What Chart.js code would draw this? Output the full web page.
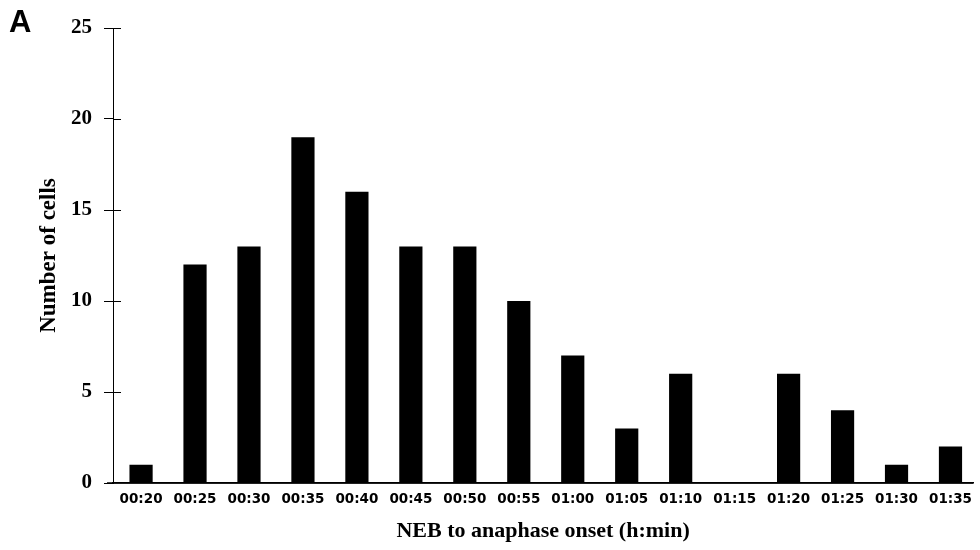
<!DOCTYPE html>
<html>
<head>
<meta charset="utf-8">
<script src="https://cdn.jsdelivr.net/npm/chart.js@4/dist/chart.umd.min.js"></script>
<style>
  html, body { margin: 0; padding: 0; background: #fff; overflow: hidden; }
  #wrap { position: relative; width: 980px; height: 550px; }
</style>
</head>
<body>
<div id="wrap"><canvas id="c" width="980" height="550"></canvas></div>
<script>
const categories = ["00:20","00:25","00:30","00:35","00:40","00:45","00:50","00:55","01:00","01:05","01:10","01:15","01:20","01:25","01:30","01:35"];
const cellCounts = [1, 12, 13, 19, 16, 13, 13, 10, 7, 3, 6, 0, 6, 4, 1, 2];
const yTicks = [0, 5, 10, 15, 20, 25];
const panelLabel = "A";
const xTitle = "NEB to anaphase onset (h:min)";
const yTitle = "Number of cells";

const points = cellCounts.map((v, i) => ({ x: i, y: v }));

const crossTicks = {
  id: 'crossTicks',
  afterDraw(chart) {
    const ctx = chart.ctx;
    const ys = chart.scales.y;
    const x0 = ys.right;
    ctx.save();
    ctx.strokeStyle = '#000';
    ctx.lineWidth = 1;
    yTicks.forEach(t => {
      if (t === 0) return;
      const py = Math.round(ys.getPixelForValue(t)) + 0.5;
      ctx.beginPath();
      ctx.moveTo(x0, py);
      ctx.lineTo(x0 + 8, py);
      ctx.stroke();
    });
    const xs = chart.scales.x;
    const by = ys.getPixelForValue(0);
    ctx.lineWidth = 1.5;
    ctx.beginPath();
    ctx.moveTo(x0 - 6, by);
    ctx.lineTo(xs.right, by);
    ctx.stroke();
    ctx.fillStyle = '#000';
    ctx.font = 'bold 31px "Liberation Sans", Arial, sans-serif';
    ctx.textBaseline = 'alphabetic';
    ctx.textAlign = 'left';
    ctx.fillText(panelLabel, 9, 32);
    ctx.restore();
  }
};

new Chart(document.getElementById('c'), {
  type: 'bar',
  data: {
    datasets: [{
      data: points,
      backgroundColor: '#000',
      borderWidth: 0,
      barPercentage: 0.43,
      categoryPercentage: 1.0
    }]
  },
  options: {
    responsive: false,
    animation: false,
    devicePixelRatio: 1,
    layout: { padding: { top: 28, right: 1, left: 0, bottom: 0 } },
    plugins: { legend: { display: false }, tooltip: { enabled: false } },
    scales: {
      x: {
        type: 'linear',
        offset: false,
        min: -0.52,
        max: 15.42,
        afterBuildTicks(scale) {
          scale.ticks = categories.map((_, i) => ({ value: i }));
        },
        afterFit(scale) { scale.height = 67; },
        grid: { display: false, drawTicks: false, offset: false },
        border: { display: true, color: '#000', width: 1.5 },
        ticks: {
          autoSkip: false,
          maxRotation: 0,
          padding: 8,
          color: '#000',
          font: { family: '"DejaVu Sans", sans-serif', weight: 'bold', size: 13.5 },
          callback: (v) => categories[v] !== undefined ? categories[v] : ''
        },
        title: {
          display: true,
          text: xTitle,
          color: '#000',
          font: { family: '"Liberation Serif", "Times New Roman", serif', weight: 'bold', size: 22 },
          padding: { top: 0, bottom: 5 }
        }
      },
      y: {
        min: 0,
        max: 25,
        afterBuildTicks(scale) {
          scale.ticks = yTicks.map(v => ({ value: v }));
        },
        afterFit(scale) { scale.width = 113; },
        grid: { display: true, drawOnChartArea: false, drawTicks: true, tickLength: 9, tickColor: '#000', tickWidth: 1 },
        border: { display: true, color: '#000', width: 1 },
        ticks: {
          padding: 12,
          color: '#000',
          font: { family: '"Liberation Serif", "Times New Roman", serif', weight: 'bold', size: 21 }
        },
        title: {
          display: true,
          text: yTitle,
          color: '#000',
          font: { family: '"Liberation Serif", "Times New Roman", serif', weight: 'bold', size: 23 },
          padding: { top: 35, bottom: 0 }
        }
      }
    }
  },
  plugins: [crossTicks]
});
</script>
</body>
</html>
